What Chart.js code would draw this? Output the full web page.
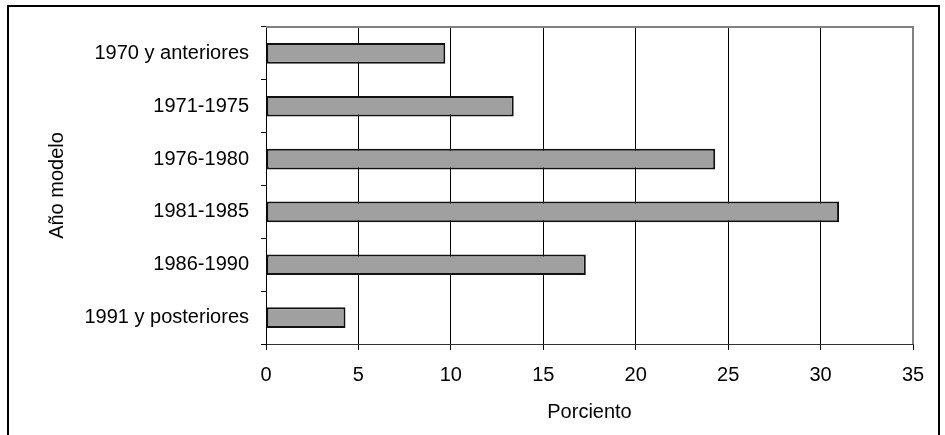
<!DOCTYPE html>
<html>
<head>
<meta charset="utf-8">
<script src="https://cdn.jsdelivr.net/npm/chart.js@4/dist/chart.umd.min.js"></script>
<style>
	body { margin: 0; background: #fff; }
	#wrap { position: relative; width: 945px; height: 435px; overflow: hidden; }
	#frame { position: absolute; left: 7px; top: 5px; width: 929px; height: 440px; border: 2px solid #000; border-bottom: none; }
	#myChart { position: absolute; left: 0; top: 0; }
</style>
</head>
<body>
<div id="wrap">
	<div id="frame"></div>
	<canvas id="myChart" width="945" height="435"></canvas>
</div>
<script>
const categories = ["1970 y anteriores", "1971-1975", "1976-1980", "1981-1985", "1986-1990", "1991 y posteriores"];
const percents = [9.7, 13.4, 24.3, 31.0, 17.3, 4.3];
const xTicks = [0, 5, 10, 15, 20, 25, 30, 35];
const xTitle = "Porciento";
const yTitle = "Año modelo";

const fontFamily = "'Liberation Sans', Arial, sans-serif";

// gray border on top and right of the plot area
const plotBorder = {
	id: "plotBorder",
	afterDraw(chart){
		let a = chart.chartArea;
		let ctx = chart.ctx;
		ctx.save();
		ctx.strokeStyle = "#808080";
		ctx.lineWidth = 2;
		ctx.beginPath();
		ctx.moveTo(a.left, a.top);
		ctx.lineTo(a.right, a.top);
		ctx.lineTo(a.right, a.bottom);
		ctx.stroke();
		ctx.restore();
	}
};

function makeChart(){
	const ctx = document.getElementById("myChart").getContext("2d");

	let data = {
		labels: categories,
		datasets: [{
			data: percents,
			backgroundColor: "#a0a0a0",
			borderColor: "#111",
			borderWidth: 2,
			borderSkipped: false,
			barPercentage: 0.39,
			categoryPercentage: 1
		}]
	};

	let options = {
		indexAxis: "y",
		responsive: false,
		animation: false,
		layout: { padding: { left: 41, top: 27, right: 32, bottom: 0 } },
		plugins: { legend: { display: false }, tooltip: { enabled: false } },
		scales: {
			x: {
				min: xTicks[0],
				max: xTicks[xTicks.length - 1],
				afterBuildTicks(scale){
					scale.ticks = xTicks.map(v => ({ value: v }));
				},
				afterFit(scale){ scale.height = 91; },
				grid: { color: "#000", lineWidth: 1, tickLength: 6 },
				border: { color: "#333", width: 1 },
				ticks: { color: "#000", padding: 13, font: { family: fontFamily, size: 20 } },
				title: {
					display: true,
					text: xTitle,
					color: "#000",
					padding: { top: 0, bottom: 11 },
					font: { family: fontFamily, size: 20 }
				}
			},
			y: {
				afterFit(scale){ scale.width = 225; },
				grid: { drawOnChartArea: false, color: "#000", tickLength: 5, offset: true },
				border: { color: "#000", width: 1 },
				ticks: { color: "#000", padding: 12, font: { family: fontFamily, size: 20 } },
				title: {
					display: true,
					text: yTitle,
					color: "#000",
					padding: { top: 4, bottom: 4 },
					font: { family: fontFamily, size: 20 }
				}
			}
		}
	};

	return new Chart(ctx, { type: "bar", data: data, options: options, plugins: [plotBorder] });
}

makeChart();
</script>
</body>
</html>
